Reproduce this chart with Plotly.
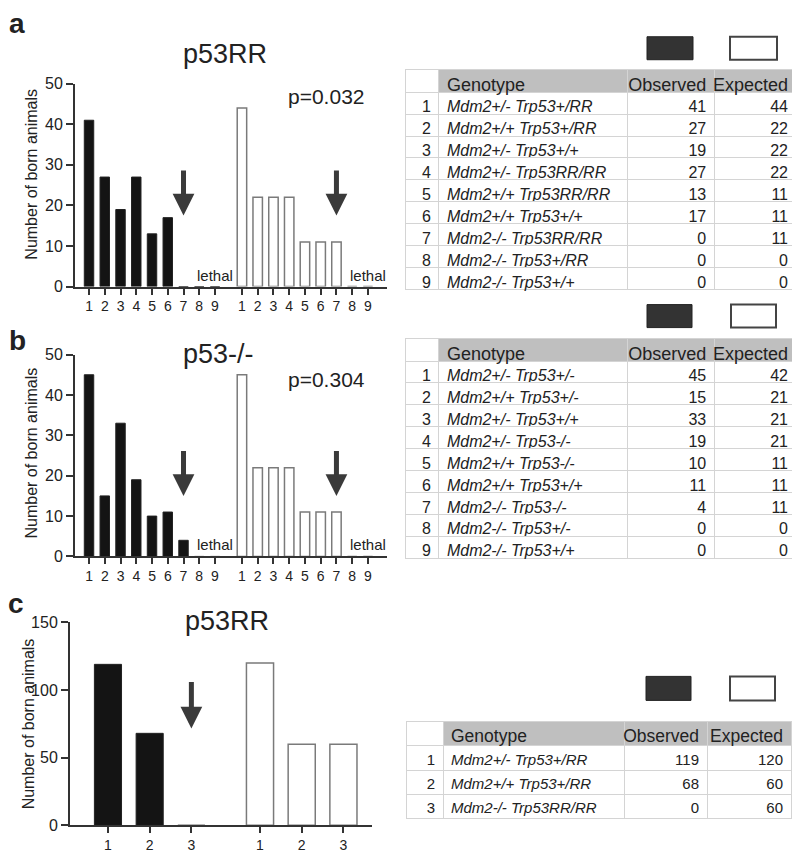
import plotly.graph_objects as go

W, H = 800, 853
PAGE_OFFSET = 8          # the page's default body margin, in pixels
RS_Y = 0.9806            # measured vertical scale of the photographed page
SHIFT_Y = 8.4            # measured vertical shift of the photographed page
FONT = "Liberation Sans, Arial, sans-serif"
TXT = "#222222"
AXC = "#333333"
HEAD = "#bfbfbf"
GRID = "#d4d4d4"

# ---------------- data ----------------
ab_categories = [1, 2, 3, 4, 5, 6, 7, 8, 9]
a_observed = [41, 27, 19, 27, 13, 17, 0, 0, 0]
a_expected = [44, 22, 22, 22, 11, 11, 11, 0, 0]
b_observed = [45, 15, 33, 19, 10, 11, 4, 0, 0]
b_expected = [45, 22, 22, 22, 11, 11, 11, 0, 0]
c_categories = [1, 2, 3]
c_observed = [119, 68, 0]
c_expected = [120, 60, 60]

a_title, b_title, c_title = "p53RR", "p53-/-", "p53RR"
a_pvalue, b_pvalue = "p=0.032", "p=0.304"
lethal_category = 9
arrow_category_ab = 7
arrow_category_c = 3

a_genotypes = ["Mdm2+/- Trp53+/RR", "Mdm2+/+ Trp53+/RR", "Mdm2+/- Trp53+/+",
               "Mdm2+/- Trp53RR/RR", "Mdm2+/+ Trp53RR/RR", "Mdm2+/+ Trp53+/+",
               "Mdm2-/- Trp53RR/RR", "Mdm2-/- Trp53+/RR", "Mdm2-/- Trp53+/+"]
a_table_observed = [41, 27, 19, 27, 13, 17, 0, 0, 0]
a_table_expected = [44, 22, 22, 22, 11, 11, 11, 0, 0]

b_genotypes = ["Mdm2+/- Trp53+/-", "Mdm2+/+ Trp53+/-", "Mdm2+/- Trp53+/+",
               "Mdm2+/- Trp53-/-", "Mdm2+/+ Trp53-/-", "Mdm2+/+ Trp53+/+",
               "Mdm2-/- Trp53-/-", "Mdm2-/- Trp53+/-", "Mdm2-/- Trp53+/+"]
b_table_observed = [45, 15, 33, 19, 10, 11, 4, 0, 0]
b_table_expected = [42, 21, 21, 21, 11, 11, 11, 0, 0]

c_genotypes = ["Mdm2+/- Trp53+/RR", "Mdm2+/+ Trp53+/RR", "Mdm2-/- Trp53RR/RR"]
c_table_observed = [119, 68, 0]
c_table_expected = [120, 60, 60]

table_header = ["", "Genotype", "Observed", "Expected"]

# ---------------- helpers (target pixels -> paper fractions) ----------------
def fx(p):
    return (p - PAGE_OFFSET) / W

def fy(p):
    q = (p - SHIFT_Y) / RS_Y
    return 1 - (q - PAGE_OFFSET) / H

fig = go.Figure()

AB_OFFSET = 9.71   # position offset of the expected group (category units)
C_OFFSET = 3.645

def add_bars(obs, exp, cats, offset, width, xa, ya):
    xo = list(cats)
    xe = [c + offset for c in cats]
    fig.add_trace(go.Bar(x=xo, y=obs, width=width, xaxis=xa, yaxis=ya,
                         marker=dict(color="#141414", line=dict(color="#222222", width=1)),
                         showlegend=False, name="Observed"))
    fig.add_trace(go.Bar(x=xe, y=exp, width=width, xaxis=xa, yaxis=ya,
                         marker=dict(color="white", line=dict(color="#7a7a7a", width=1.5)),
                         showlegend=False, name="Expected"))
    return xo, xe

xo_a, xe_a = add_bars(a_observed, a_expected, ab_categories, AB_OFFSET, 0.6, "x", "y")
xo_b, xe_b = add_bars(b_observed, b_expected, ab_categories, AB_OFFSET, 0.6, "x2", "y2")
xo_c, xe_c = add_bars(c_observed, c_expected, c_categories, C_OFFSET, 0.65, "x3", "y3")

def xaxis_def(domain, rng, tickvals, ticktext, anchor):
    return dict(domain=domain, range=rng, anchor=anchor, showline=True, linecolor=AXC,
                linewidth=2, ticks="outside", ticklen=6, tickwidth=1.5, tickcolor=AXC,
                tickvals=tickvals, ticktext=ticktext, showgrid=False, zeroline=False,
                tickfont=dict(family=FONT, size=14, color=TXT), fixedrange=True)

def yaxis_def(domain, rng, dtick, anchor):
    return dict(domain=domain, range=rng, anchor=anchor, showline=True, linecolor=AXC,
                linewidth=2, ticks="outside", ticklen=7, tickwidth=1.5, tickcolor=AXC,
                dtick=dtick, showgrid=False, zeroline=False,
                tickfont=dict(family=FONT, size=16, color=TXT), fixedrange=True)

ab_ticktext = [str(c) for c in ab_categories] * 2
c_ticktext = [str(c) for c in c_categories] * 2

fig.update_layout(
    width=W, height=H, margin=dict(l=0, r=0, t=0, b=0),
    paper_bgcolor="white", plot_bgcolor="white", showlegend=False, barmode="overlay",
    xaxis=xaxis_def([fx(75), fx(387)], [0.11, 19.92], xo_a + xe_a, ab_ticktext, "y"),
    yaxis=yaxis_def([fy(287), fy(84)], [0, 50], 10, "x"),
    xaxis2=xaxis_def([fx(75), fx(387)], [0.11, 19.92], xo_b + xe_b, ab_ticktext, "y2"),
    yaxis2=yaxis_def([fy(557), fy(355)], [0, 50], 10, "x2"),
    xaxis3=xaxis_def([fx(70), fx(372)], [0.09, 7.33], xo_c + xe_c, c_ticktext, "y3"),
    yaxis3=yaxis_def([fy(826), fy(623)], [0, 150], 50, "x3"),
)

# ---------------- tables ----------------
NBSP = "\u00a0"

def add_table(genos, obs, exp, x0, x1, top, header_h, row_h, colw, row_font, head_font):
    n = len(genos)
    bottom = top + header_h + n * row_h + 8
    idx = [str(i + 1) for i in range(n)]
    fig.add_trace(go.Table(
        domain=dict(x=[fx(x0), fx(x1)], y=[fy(bottom), fy(top)]),
        columnwidth=colw,
        header=dict(values=table_header,
                    fill=dict(color=["white", HEAD, HEAD, HEAD]),
                    line=dict(color=GRID, width=1),
                    align=["right", "left", "right", "right"],
                    font=dict(family=FONT, size=head_font, color=TXT),
                    height=header_h / RS_Y),
        cells=dict(values=[idx, [g.replace(" ", NBSP) for g in genos], obs, exp],
                   fill=dict(color="white"),
                   line=dict(color=GRID, width=1),
                   align=["right", "left", "right", "right"],
                   font=dict(family=FONT, size=row_font, color=TXT,
                             style=["normal", "italic", "normal", "normal"]),
                   height=row_h / RS_Y),
    ))

add_table(a_genotypes, a_table_observed, a_table_expected, 405, 797, 70, 22, 21.5, [34, 189, 87, 82], 16, 18)
add_table(b_genotypes, b_table_observed, b_table_expected, 405, 797, 339, 22, 21.5, [34, 189, 87, 82], 16, 18)
add_table(c_genotypes, c_table_observed, c_table_expected, 406, 791, 722, 24, 23.7, [37, 181, 83, 84], 15, 17.5)

# ---------------- legend boxes ----------------
shapes = []
for (bx0, by0, bx1, by1, wx0, wx1) in [(647, 37, 693, 60, 730, 777),
                                        (647, 305, 692, 328, 731, 776),
                                        (646, 677, 691, 701, 730, 775)]:
    shapes.append(dict(type="rect", xref="paper", yref="paper", x0=fx(bx0), x1=fx(bx1),
                       y0=fy(by1), y1=fy(by0), fillcolor="#333333",
                       line=dict(color="#222222", width=1)))
    shapes.append(dict(type="rect", xref="paper", yref="paper", x0=fx(wx0), x1=fx(wx1),
                       y0=fy(by1), y1=fy(by0), fillcolor="white",
                       line=dict(color="#444444", width=2)))
fig.update_layout(shapes=shapes)

# ---------------- annotations ----------------
ann = []
def ptext(text, x, y, size, bold=False, angle=0, xanchor="center"):
    ann.append(dict(text="<b>%s</b>" % text if bold else text, x=fx(x), y=fy(y),
                    xref="paper", yref="paper", showarrow=False, textangle=angle,
                    xanchor=xanchor, yanchor="middle",
                    font=dict(family=FONT, size=size, color=TXT)))

ptext("a", 17, 24, 28, bold=True)
ptext("b", 17, 341, 28, bold=True)
ptext("c", 16, 604, 28, bold=True)
ptext(a_title, 225, 54, 27)
ptext(b_title, 218, 354, 27)
ptext(c_title, 227, 622, 27)
ptext(a_pvalue, 326, 97, 21)
ptext(b_pvalue, 326, 380, 21)
ptext("Number of born animals", 32, 175, 16, angle=-90)
ptext("Number of born animals", 32, 454, 16, angle=-90)
ptext("Number of born animals", 28, 725, 16, angle=-90)

# "lethal" labels near the last category of each group
for xa, ya, xo, xe in [("x", "y", xo_a, xe_a), ("x2", "y2", xo_b, xe_b)]:
    for xs in (xo, xe):
        ann.append(dict(text="lethal", x=xs[lethal_category - 1], y=0, xref=xa, yref=ya,
                        showarrow=False, yanchor="bottom", xanchor="center", yshift=1,
                        font=dict(family=FONT, size=15, color=TXT)))

def arrow(xa, ya, x, ytip, ytop):
    ann.append(dict(text="", x=x, y=ytip, ax=x, ay=ytop, xref=xa, yref=ya,
                    axref=xa, ayref=ya, showarrow=True, arrowhead=2, arrowwidth=5,
                    arrowsize=0.87, arrowcolor="#3a3a3a"))

arrow("x", "y", xo_a[arrow_category_ab - 1], 17.5, 29)
arrow("x", "y", xe_a[arrow_category_ab - 1], 17.5, 29)
arrow("x2", "y2", xo_b[arrow_category_ab - 1], 15, 26.5)
arrow("x2", "y2", xe_b[arrow_category_ab - 1], 15, 26.5)
arrow("x3", "y3", xo_c[arrow_category_c - 1], 71.5, 107)

fig.update_layout(annotations=ann)

fig.write_html("out.html", config={"displayModeBar": False})
